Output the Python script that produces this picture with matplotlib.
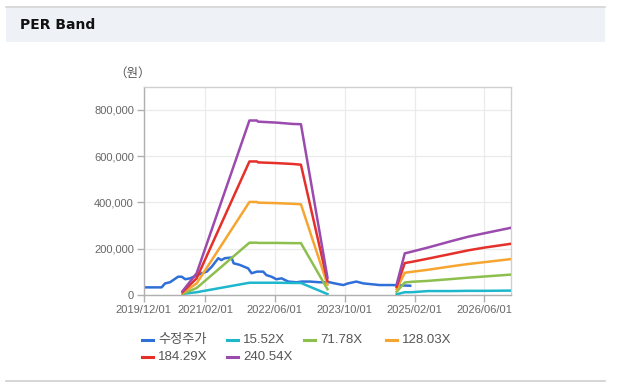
import matplotlib
matplotlib.use("Agg")
import matplotlib.pyplot as plt
from matplotlib.lines import Line2D
from matplotlib.patches import Rectangle
import pandas as pd

plt.rcParams['font.family'] = ['Liberation Sans', 'Noto Sans CJK KR', 'DejaVu Sans']

# ---------------- data ----------------
title = "PER Band"
unit_label = "（원）"
series_names = ["수정주가", "15.52X", "71.78X", "128.03X", "184.29X", "240.54X"]
series_colors = ["#2f6fd8", "#1fb7cc", "#8cbf4d", "#f7a531", "#e5302a", "#9b4aad"]

price_dates = ["2019-12-01", "2020-04-04", "2020-04-28", "2020-06-01", "2020-06-25",
               "2020-07-28", "2020-08-22", "2020-09-16", "2020-10-19", "2021-01-10",
               "2021-02-13", "2021-03-19", "2021-05-04", "2021-05-25", "2021-06-19",
               "2021-08-04", "2021-08-19", "2021-10-01", "2021-11-28", "2021-12-22",
               "2022-01-28", "2022-03-13", "2022-04-04", "2022-05-10", "2022-06-13",
               "2022-07-19", "2022-09-04", "2022-11-01", "2022-12-07", "2023-02-04",
               "2023-04-10", "2023-06-19", "2023-07-25", "2023-09-22", "2023-10-25",
               "2023-12-22", "2024-02-10", "2024-04-16", "2024-06-01", "2024-09-01",
               "2025-01-01"]
price_values = [33000, 33000, 50000, 55000, 65000,
                79000, 79000, 68000, 72000, 94000,
                101000, 122000, 159000, 151000, 159000,
                162000, 137000, 130000, 115000, 94000,
                101000, 101000, 86000, 79000, 68000,
                72000, 58000, 55000, 58000, 58000,
                55000, 55000, 50000, 43000, 50000,
                58000, 50000, 46000, 43000, 43000,
                40000]

band1_dates = ["2020-08-28", "2020-12-04", "2021-12-07", "2022-01-28", "2022-02-05",
               "2022-06-10", "2022-10-07", "2022-12-01", "2023-06-04"]
band2_dates = ["2024-09-28", "2024-11-24", "2025-01-10", "2025-05-04", "2025-10-16",
               "2026-02-10", "2026-06-04", "2026-12-01"]

band_15_52_a = [5000, 12000, 53000, 53000, 53000, 53000, 52000, 52000, 4000]
band_71_78_a = [5000, 30000, 226000, 226000, 225000, 225000, 224000, 224000, 25000]
band_128_03_a = [9000, 50000, 402000, 402000, 399000, 397000, 394000, 392000, 45000]
band_184_29_a = [13000, 72000, 577000, 577000, 573000, 570000, 566000, 563000, 60000]
band_240_54_a = [17000, 94000, 754000, 754000, 749000, 745000, 739000, 738000, 75000]

band_15_52_b = [3000, 12000, 12000, 17000, 17000, 18000, 18000, 19000]
band_71_78_b = [14000, 54000, 57000, 61000, 69000, 75000, 80000, 88000]
band_128_03_b = [25000, 96000, 100000, 109000, 124000, 134000, 142000, 155000]
band_184_29_b = [35000, 138000, 143000, 157000, 178000, 193000, 205000, 221000]
band_240_54_b = [45000, 180000, 187000, 205000, 233000, 252000, 267000, 290000]

x_ticks = ["2019-12-01", "2021-02-01", "2022-06-01", "2023-10-01", "2025-02-01", "2026-06-01"]
x_tick_labels = ["2019/12/01", "2021/02/01", "2022/06/01", "2023/10/01", "2025/02/01", "2026/06/01"]
y_ticks = [0, 200000, 400000, 600000, 800000]
x_range = ["2019-12-01", "2026-12-01"]
y_max = 900000

# ---------------- figure ----------------
W, H = 620, 387
fig = plt.figure(figsize=(W / 100, H / 100), dpi=100)
fig.patch.set_facecolor("white")

def px(x, y):
    return x / W, 1 - y / H

# header bar
x0, y0 = px(6, 42)
fig.patches.append(Rectangle((x0, y0), (605 - 6) / W, 35 / H, transform=fig.transFigure,
                             facecolor="#eef2f7", edgecolor="none", zorder=0))
fig.lines.append(Line2D([6 / W, 605 / W], [1 - 7 / H, 1 - 7 / H], transform=fig.transFigure,
                        color="#d4d4d4", lw=1.2))
fig.lines.append(Line2D([6 / W, 605 / W], [1 - 380.5 / H, 1 - 380.5 / H], transform=fig.transFigure,
                        color="#cfcfcf", lw=1.2))
tx, ty = px(20, 25)
fig.text(tx, ty, title, fontsize=10, fontweight="bold", color="#111111",
         va="center", ha="left", family=["DejaVu Sans"])

ax = fig.add_axes([143.7 / W, 1 - 295 / H, (510.5 - 143.7) / W, (295 - 86.7) / H])

pd_price = pd.to_datetime(price_dates)
d1 = pd.to_datetime(band1_dates)
d2 = pd.to_datetime(band2_dates)

bands_a = [band_15_52_a, band_71_78_a, band_128_03_a, band_184_29_a, band_240_54_a]
bands_b = [band_15_52_b, band_71_78_b, band_128_03_b, band_184_29_b, band_240_54_b]

for i, (va, vb) in enumerate(zip(bands_a, bands_b)):
    c = series_colors[i + 1]
    ax.plot(d1, va, color=c, lw=1.8, solid_joinstyle="round", zorder=3 + i)
    ax.plot(d2, vb, color=c, lw=1.8, solid_joinstyle="round", zorder=3 + i)

ax.plot(pd_price, price_values, color=series_colors[0], lw=1.8, zorder=2)

ax.set_xlim(pd.to_datetime(x_range[0]), pd.to_datetime(x_range[1]))
ax.set_ylim(0, y_max)
ax.set_xticks(pd.to_datetime(x_ticks))
ax.set_xticklabels(x_tick_labels)
ax.set_yticks(y_ticks)
ax.set_yticklabels([f"{v:,}" for v in y_ticks])

ax.grid(True, color="#ebebeb", lw=0.9)
ax.set_axisbelow(True)
for s in ["top", "right"]:
    ax.spines[s].set_color("#d0d0d0")
for s in ["left", "bottom"]:
    ax.spines[s].set_color("#b0b0b0")
for s in ax.spines.values():
    s.set_linewidth(1.0)
ax.tick_params(axis="both", colors="#b0b0b0", labelcolor="#666666", labelsize=8,
               length=5, width=1.0, pad=2)

ux, uy = px(114, 73)
fig.text(ux, uy, unit_label, fontsize=9, color="#555555", va="center", ha="left",
         family=["Noto Sans CJK KR", "DejaVu Sans"])

# legend (manual)
legend_pos = [(142, 340), (227, 340), (304, 340), (386, 340), (142, 357), (227, 357)]
for name, c, (lx, ly) in zip(series_names, series_colors, legend_pos):
    a, b = px(lx, ly)
    fig.lines.append(Line2D([a, a + 11 / W], [b, b], transform=fig.transFigure, color=c, lw=2.2))
    fig.text(a + 16 / W, b, name, fontsize=9.5, color="#555555", va="center", ha="left")

fig.savefig("out.png", dpi=100, facecolor="white")
